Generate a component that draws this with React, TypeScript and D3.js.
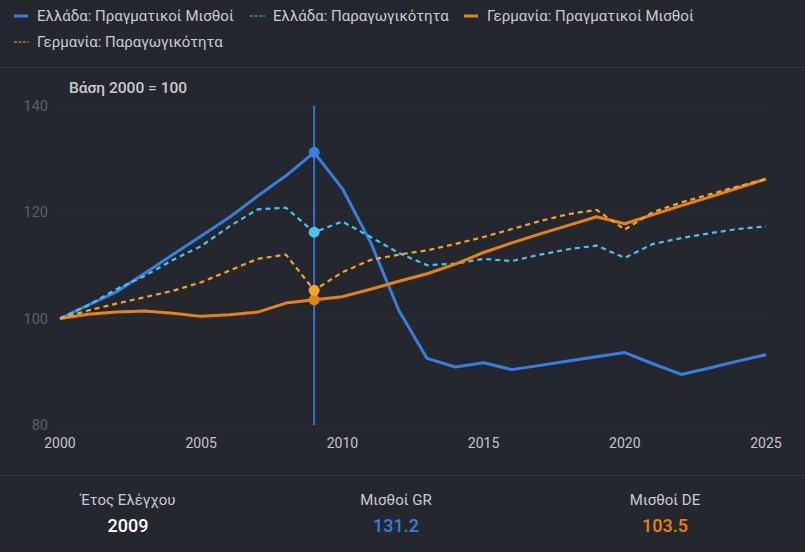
import React from "react";
import * as d3 from "d3";

const years = d3.range(2000, 2026);
const grWages = [100, 102.5, 105, 108.5, 112, 115.5, 119, 123, 126.8, 131.2, 124.4, 114.3, 101.5, 92.5, 90.9, 91.7, 90.4, 91.2, 92, 92.8, 93.6, 91.5, 89.5, 90.7, 92, 93.2];
const grProd = [100, 102.5, 105.5, 108, 111, 113.6, 117.3, 120.5, 120.8, 116.2, 118.2, 115.3, 112.3, 110, 110.3, 111.2, 110.8, 112, 113, 113.7, 111.4, 114, 115.1, 116, 116.8, 117.3];
const deWages = [100, 100.8, 101.2, 101.4, 101, 100.4, 100.7, 101.2, 102.9, 103.5, 104.1, 105.5, 107, 108.4, 110.2, 112.4, 114.2, 115.9, 117.5, 119.1, 117.8, 119.5, 121.2, 122.8, 124.5, 126.2];
const deProd = [100, 101.5, 102.8, 104, 105.2, 106.8, 109, 111.2, 112, 105.3, 108.7, 111, 112, 112.8, 114, 115.3, 116.8, 118.3, 119.6, 120.4, 116.7, 120, 121.8, 123.3, 124.8, 126.2];

const yTicks = [80, 100, 120, 140];
const xTicks = [2000, 2005, 2010, 2015, 2020, 2025];
const seriesNames = [
  "Ελλάδα: Πραγματικοί Μισθοί",
  "Ελλάδα: Παραγωγικότητα",
  "Γερμανία: Πραγματικοί Μισθοί",
  "Γερμανία: Παραγωγικότητα",
];
const selectedYear = 2009;
const axisTitle = "Βάση 2000 = 100";
const statLabels = ["Έτος Ελέγχου", "Μισθοί GR", "Μισθοί DE"];

const W = 805;
const H = 552;
const BG = "#25272e";
const C_GRW = "#3580de";
const C_GRP = "#4fc0f2";
const C_DEW = "#e8830f";
const C_DEP = "#f3a526";
const FONT = "Roboto, 'Noto Sans', sans-serif";

export default function App() {
  const x = d3.scaleLinear().domain([2000, 2025]).range([60, 766]);
  const y = d3.scaleLinear().domain([80, 140]).range([425, 105.5]);
  const mk = (vals: number[]) =>
    d3
      .line<number>()
      .x((_, i) => x(years[i]))
      .y((v) => y(v))(vals) as string;

  const series = [
    { name: seriesNames[0], vals: grWages, color: C_GRW, dash: false },
    { name: seriesNames[1], vals: grProd, color: C_GRP, dash: true },
    { name: seriesNames[2], vals: deWages, color: C_DEW, dash: false },
    { name: seriesNames[3], vals: deProd, color: C_DEP, dash: true },
  ];
  const si = years.indexOf(selectedYear);
  const legendPos = [
    { x: 14, y: 16 },
    { x: 250, y: 16 },
    { x: 464, y: 16 },
    { x: 14, y: 42 },
  ];
  const statValues = [
    { v: String(selectedYear), c: "#ffffff" },
    { v: grWages[si].toFixed(1), c: C_GRW },
    { v: deWages[si].toFixed(1), c: C_DEW },
  ];
  const statX = [128, 396, 665];

  return (
    <svg
      width={W}
      height={H}
      style={{ position: "absolute", left: 0, top: 0, display: "block", background: BG }}
      fontFamily={FONT}
    >
      <rect x={0} y={0} width={W} height={H} fill={BG} />
      {/* legend */}
      {series.map((s, i) => (
        <g key={s.name} transform={`translate(${legendPos[i].x},${legendPos[i].y})`}>
          {s.dash ? (
            <line x1={0} x2={15} y1={0} y2={0} stroke={s.color} strokeWidth={1.2} strokeDasharray="3,1.5" />
          ) : (
            <line x1={0} x2={14} y1={0} y2={0} stroke={s.color} strokeWidth={3} />
          )}
          <text x={23} y={0} dy="0.35em" fontSize={15} fill="#c9cbd1">
            {s.name}
          </text>
        </g>
      ))}
      <line x1={0} x2={W} y1={67.5} y2={67.5} stroke="#373941" strokeWidth={1} />
      <text x={69} y={88} dy="0.35em" fontSize={15.5} fontWeight={500} fill="#c9cbd1">
        {axisTitle}
      </text>
      {/* grid */}
      {yTicks.map((t) => (
        <g key={t}>
          <line x1={56} x2={766} y1={y(t)} y2={y(t)} stroke="#30323a" strokeWidth={1} strokeDasharray="2,2" />
          <text x={48} y={y(t)} dy="0.35em" textAnchor="end" fontSize={14.5} fill="#5d6068">
            {t}
          </text>
        </g>
      ))}
      {xTicks.map((t) => (
        <text key={t} x={x(t)} y={443} dy="0.35em" textAnchor="middle" fontSize={14} fill="#c3c5cb">
          {t}
        </text>
      ))}
      {/* lines */}
      {series.map((s) => (
        <path
          key={s.name}
          d={mk(s.vals)}
          fill="none"
          stroke={s.color}
          strokeWidth={s.dash ? 2.2 : 3}
          strokeDasharray={s.dash ? "5,4" : undefined}
          strokeLinejoin="round"
        />
      ))}
      {/* cursor */}
      <line x1={x(selectedYear)} x2={x(selectedYear)} y1={y(140)} y2={y(80)} stroke="#3a78d8" strokeWidth={1.8} />
      {series.map((s) => (
        <circle key={s.name} cx={x(selectedYear)} cy={y(s.vals[si])} r={5.5} fill={s.color} />
      ))}
      {/* stats panel */}
      <line x1={0} x2={W} y1={475.5} y2={475.5} stroke="#373941" strokeWidth={1} />
      {statLabels.map((l, i) => (
        <g key={l}>
          <text x={statX[i]} y={500} dy="0.35em" textAnchor="middle" fontSize={15} fill="#c9cbd1">
            {l}
          </text>
          <text x={statX[i]} y={526} dy="0.35em" textAnchor="middle" fontSize={18} fontWeight={500} fill={statValues[i].c}>
            {statValues[i].v}
          </text>
        </g>
      ))}
    </svg>
  );
}
